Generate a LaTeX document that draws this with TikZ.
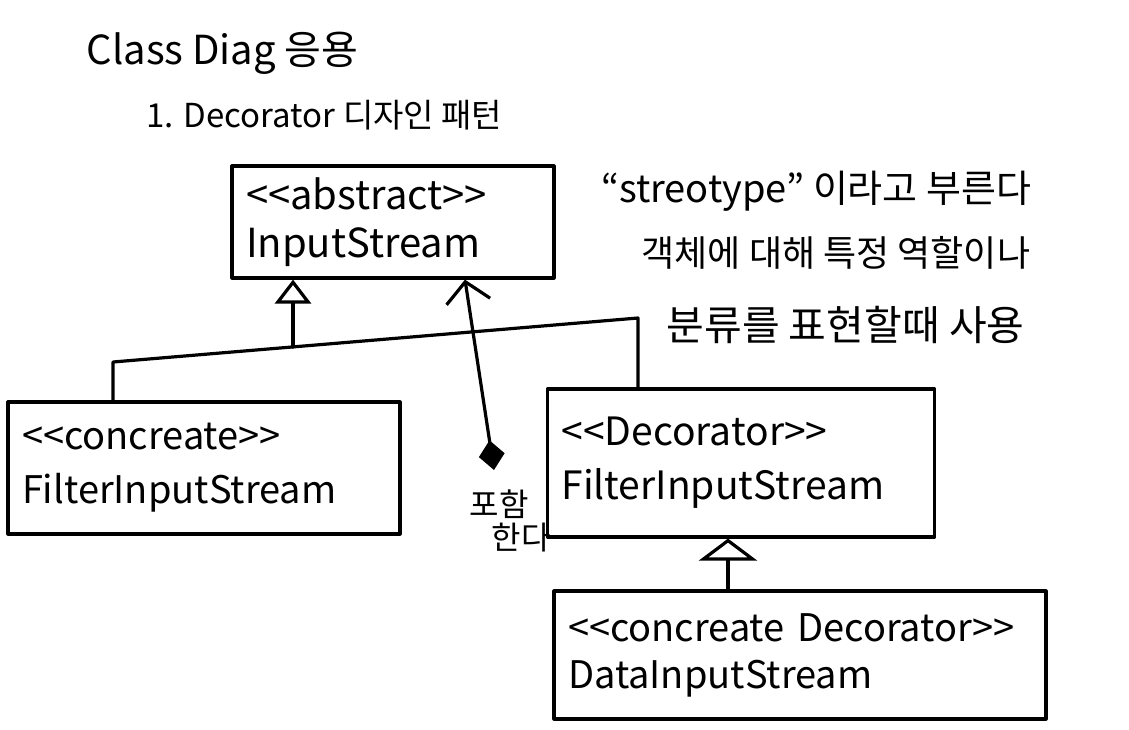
\documentclass[tikz,border=0pt]{standalone}
\usepackage{fontspec}
\setmainfont{Noto Sans CJK KR}
\usetikzlibrary{arrows.meta}
\newcommand\lgl{<\kern0pt<}
\newcommand\rgr{>\kern0pt>}
\begin{document}
\begin{tikzpicture}[x=1pt,y=-1pt, line width=3.2pt, line join=round, line cap=round,
  box/.style={draw, line width=3.2pt, align=left, inner xsep=14pt, inner ysep=0pt, anchor=center},
  lbl/.style={inner sep=0pt, anchor=base west},
  gen/.style={-{Triangle[open, length=24pt, width=36pt]}},
  ]
\useasboundingbox (0,0) rectangle (1129,730);
\fill[white] (0,0) rectangle (1129,730);

% titles
\node[lbl, font=\fontsize{40}{44}\selectfont] (title) at (85,65) {Class Diag 응용};
\node[lbl, font=\fontsize{33}{38}\selectfont] (sub) at (145,128) {1. Decorator 디자인 패턴};

% classes
\node[box, text width=294pt, minimum height=112pt, font=\fontsize{40}{48}\selectfont] (abs) at (393,222) {\lgl abstract\rgr\\InputStream};
\node[box, text width=364pt, minimum height=132pt, font=\fontsize{38}{54}\selectfont] (conc) at (204,468) {\lgl concreate\rgr\\FilterInputStream};
\node[box, text width=359pt, minimum height=148pt, font=\fontsize{39}{54}\selectfont] (deco) at (741,463) {\lgl Decorator\rgr\\FilterInputStream};
\node[box, text width=464pt, minimum height=128pt, font=\fontsize{38}{47}\selectfont] (data) at (800,655) {\lgl concreate Decorator\rgr\\DataInputStream};

% note
\node[lbl, font=\fontsize{38}{42}\selectfont] (n1) at (600,203) {“streotype” 이라고 부른다};
\node[lbl, font=\fontsize{36}{40}\selectfont] (n2) at (640,266) {객체에 대해 특정 역할이나};
\node[lbl, font=\fontsize{41}{46}\selectfont] (n3) at (665,340) {분류를 표현할때 사용};

% aggregation label
\node[lbl, font=\fontsize{32}{36}\selectfont] (p1) at (468,516) {포함};
\node[lbl, font=\fontsize{32}{36}\selectfont] (p2) at (490,549) {한다};

% generalization to abstract
\coordinate (jL) at (113,362);
\coordinate (jM) at (293,347);
\coordinate (jR) at (638,318);
\draw (conc.north -| jL) -- (jL) -- (jR) -- (jR |- deco.north);
\draw[gen] (jM) -- (jM |- abs.south);

% aggregation
\coordinate (agg) at (494,470);
\draw[{Diamond[fill=black, length=30pt, width=26pt]}-{Straight Barb[length=20pt, width=44pt]}] (agg) -- (abs.south -| 465,0);

% generalization data -> deco
\coordinate (dx) at (728,0);
\draw[-{Triangle[open, length=22pt, width=58pt]}] (data.north -| dx) -- (deco.south -| dx);
\end{tikzpicture}
\end{document}
